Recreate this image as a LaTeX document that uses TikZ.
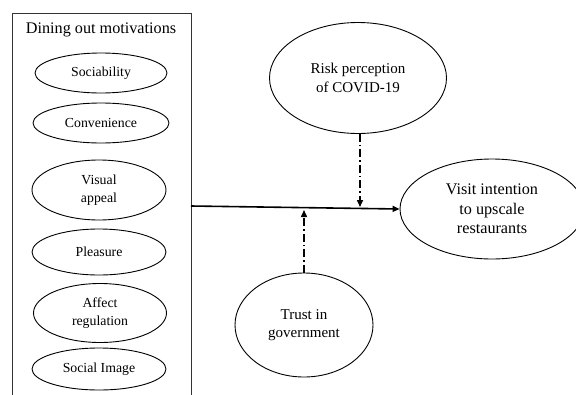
\documentclass[tikz,border=0pt]{standalone}
\usepackage{fontspec}
\setmainfont{Liberation Serif}
\usetikzlibrary{shapes.geometric,arrows.meta}
\begin{document}
\begin{tikzpicture}[x=1pt,y=-1pt,
  ell/.style={draw,ellipse,inner sep=0pt,line width=0.9pt,align=center},
  motiv/.style={ell,font=\fontsize{13.8}{17.5}\selectfont},
  mainarrow/.style={line width=1.6pt,-{Triangle[length=7pt,width=6pt]}},
  modarrow/.style={line width=1.5pt,dash pattern=on 8pt off 3pt on 1.5pt off 3pt,-{Triangle[length=7pt,width=6pt]}}]
\useasboundingbox (0,0) rectangle (576,394);
\begin{scope}
\clip (0,0) rectangle (576,394);
% box
\draw[line width=0.9pt,black!80] (12,396) -- (12,13) -- (191,13) -- (191,396);
\node[font=\fontsize{16.2}{19}\selectfont] (title) at (101,30) {Dining out motivations};
\node[motiv,minimum width=132pt,minimum height=40pt] (soc) at (101,73) {Sociability};
\node[motiv,minimum width=136pt,minimum height=40pt] (con) at (101,123) {Convenience};
\node[motiv,minimum width=134pt,minimum height=60pt] (vis) at (99,190) {Visual\\appeal};
\node[motiv,minimum width=134pt,minimum height=46pt] (ple) at (99,252) {Pleasure};
\node[motiv,minimum width=133pt,minimum height=59pt] (aff) at (100,313) {Affect\\regulation};
\node[motiv,minimum width=134pt,minimum height=42pt] (sim) at (99,369) {Social Image};
% right side
\node[ell,minimum width=177pt,minimum height=111pt,font=\fontsize{15}{19}\selectfont] (risk) at (358,78) {Risk perception\\of COVID-19};
\node[ell,minimum width=184pt,minimum height=100pt,font=\fontsize{16.2}{19.5}\selectfont] (visit) at (492,209) {Visit intention\\to upscale\\restaurants};
\node[ell,minimum width=138pt,minimum height=104pt,font=\fontsize{15}{18}\selectfont] (trust) at (304,325) {Trust in\\government};
\coordinate (m) at (191,206);
\coordinate (r) at (360,207);
\coordinate (t) at (304,210);
\draw[mainarrow] (m) -- (visit.west);
\draw[modarrow] (risk.south -| r) -- (r);
\draw[modarrow] (trust.north) -- (t);
\end{scope}
\end{tikzpicture}
\end{document}
